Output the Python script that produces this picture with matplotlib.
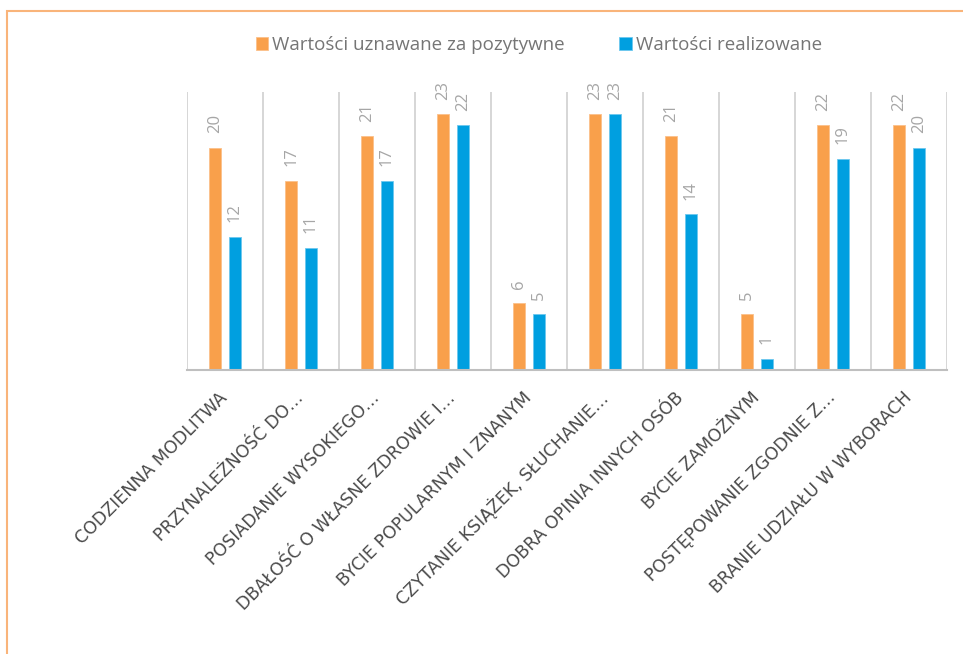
import matplotlib.pyplot as plt
import numpy as np
from matplotlib.patches import Rectangle

# data
categories = ["CODZIENNA MODLITWA", "PRZYNALEŻNOŚĆ DO…", "POSIADANIE WYSOKIEGO…",
              "DBAŁOŚĆ O WŁASNE ZDROWIE I…", "BYCIE POPULARNYM I ZNANYM",
              "CZYTANIE KSIĄŻEK, SŁUCHANIE…", "DOBRA OPINIA INNYCH OSÓB",
              "BYCIE ZAMOŻNYM", "POSTĘPOWANIE ZGODNIE Z…", "BRANIE UDZIAŁU W WYBORACH"]
positive = [20, 17, 21, 23, 6, 23, 21, 5, 22, 22]
realized = [12, 11, 17, 22, 5, 23, 14, 1, 19, 20]
series_names = ["Wartości uznawane za pozytywne", "Wartości realizowane"]

orange = "#F9A04B"
blue = "#009FE0"

plt.rcParams['font.family'] = ['Open Sans', 'DejaVu Sans']

fig = plt.figure(figsize=(9.63, 6.54), dpi=100)
ax = fig.add_axes([187/963, 1-370/654, (947-187)/963, (370-92)/654])

x = np.arange(len(categories))
off = 0.13
w = 0.15
b1 = ax.bar(x - off, positive, w, color=orange, edgecolor="#FBC08A", linewidth=0.6, label=series_names[0])
b2 = ax.bar(x + off, realized, w, color=blue, edgecolor="#6CC8EE", linewidth=0.6, label=series_names[1])

for bars, vals in ((b1, positive), (b2, realized)):
    for rect, v in zip(bars, vals):
        ax.annotate(str(v), (rect.get_x() + rect.get_width()/2, v), xytext=(0, 10.5),
                    textcoords="offset points", rotation=90, ha="center", va="bottom",
                    fontsize=12, color="#A6A6A6")

ax.set_xlim(-0.5, len(categories) - 0.5)
ax.set_ylim(0, 25)
ax.set_yticks([])
# vertical gridlines at category boundaries
for g in np.arange(-0.5, len(categories), 1.0):
    ax.axvline(g, color="#D0D0D0", lw=1.2, zorder=0)
for s in ["top", "right", "left"]:
    ax.spines[s].set_visible(False)
ax.spines["bottom"].set_color("#BFBFBF")
ax.spines["bottom"].set_linewidth(1.5)

ax.set_xticks(x)
ax.set_xticklabels(categories, rotation=45, ha="right", va="center", rotation_mode="anchor",
                   fontsize=12.5, color="#4A4A4A", family="DejaVu Sans")
ax.tick_params(axis="x", length=0, pad=18)

fig.legend(handles=[b1, b2], labels=series_names, loc="center", bbox_to_anchor=(539/963, 1-45/654),
           ncol=2, frameon=False, fontsize=13.5, handlelength=0.65, handleheight=0.65,
           handletextpad=0.25, columnspacing=2.9, labelcolor="#757575")

# chart border
fig.patches.append(Rectangle((7/963, -0.1), 1.2, 1.1 - 11/654, transform=fig.transFigure,
                             fill=False, edgecolor="#F9B47A", lw=1.5, figure=fig))

fig.savefig("out.png", dpi=100)
